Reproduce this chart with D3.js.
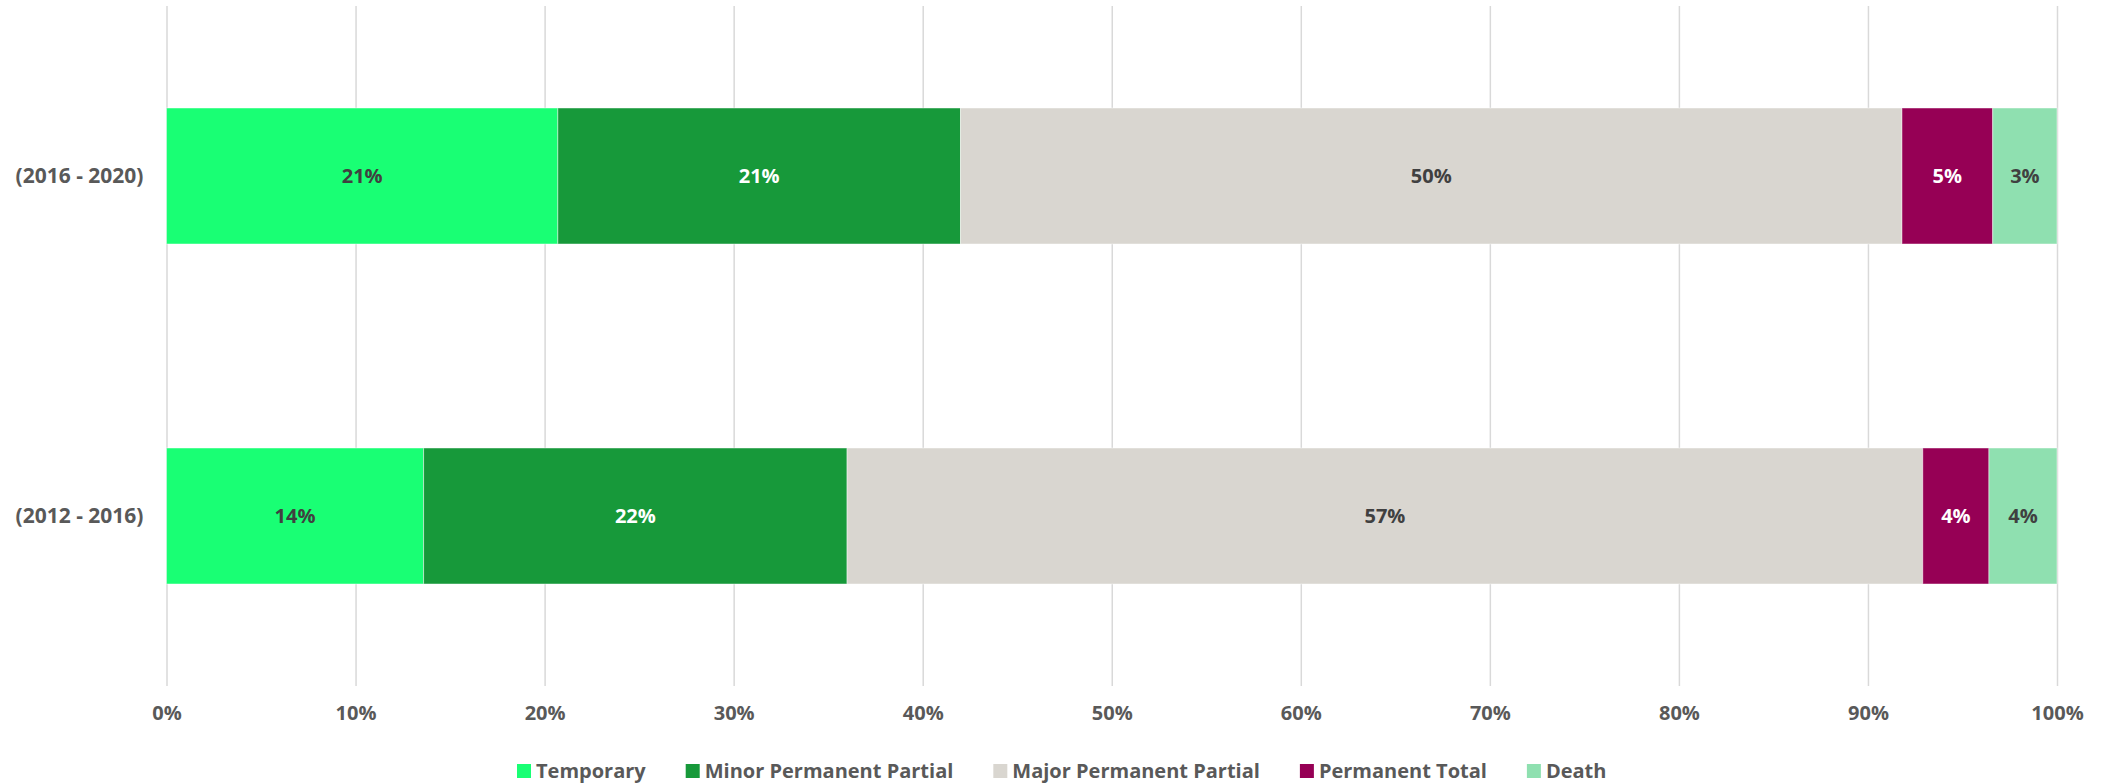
<!DOCTYPE html>
<html>
<head>
<meta charset="utf-8">
<script src="https://cdn.jsdelivr.net/npm/d3@7"></script>
<style>
    body { margin: 0; background: #fff; }
    text { font-family: "Open Sans", sans-serif; font-weight: bold; }
    .tick text { fill: #595959; font-size: 20px; }
    .y-axis .tick text { font-size: 21px; }
    .legend text { fill: #595959; font-size: 20px; }
</style>
</head>
<body>
<div id="chart-container"></div>
<script>
// periods, top to bottom
let periods = ["(2016 - 2020)", "(2012 - 2016)"];

let seriesNames = ["Temporary", "Minor Permanent Partial", "Major Permanent Partial", "Permanent Total", "Death"];
let seriesColors = ["#19ff74", "#17993a", "#d9d6d0", "#960055", "#8fe0b0"];
let labelColors = ["#404040", "#ffffff", "#404040", "#ffffff", "#404040"];

// shares in %, one value per period
let temporary = [20.7, 13.6];
let minorPermanentPartial = [21.3, 22.4];
let majorPermanentPartial = [49.8, 56.9];
let permanentTotal = [4.8, 3.5];
let death = [3.4, 3.6];

let xTicks = [0, 10, 20, 30, 40, 50, 60, 70, 80, 90, 100];

let margin = {top: 6, right: 47, bottom: 97, left: 166.5};
let totalWidth = 2104, totalHeight = 783;
let width = totalWidth - margin.left - margin.right;
let height = totalHeight - margin.top - margin.bottom;

let seriesValues = [temporary, minorPermanentPartial, majorPermanentPartial, permanentTotal, death];

// one row per period for d3.stack
let rows = periods.map(function(p, i) {
    let row = {period: p};
    seriesNames.forEach(function(s, j) { row[s] = seriesValues[j][i]; });
    return row;
});

let stacked = d3.stack().keys(seriesNames)(rows);

let svg = d3.select('#chart-container').append('svg')
    .attr('width', totalWidth)
    .attr('height', totalHeight);

let g = svg.append('g')
    .attr('transform', 'translate(' + margin.left + ',' + margin.top + ')');

let x = d3.scaleLinear()
    .domain([0, 100])
    .range([0, width]);

let y = d3.scaleBand()
    .domain(periods)
    .range([0, height])
    .paddingInner(0.6)
    .paddingOuter(0.3);

// Gridlines
g.append('g')
    .attr('class', 'grid')
    .call(d3.axisBottom(x).tickValues(xTicks).tickSize(height).tickFormat(''))
    .call(function(sel) {
        sel.select('.domain').remove();
        sel.selectAll('line').attr('stroke', '#d9d9d9').attr('stroke-width', 1.5);
    });

// X axis labels
g.append('g')
    .attr('transform', 'translate(0,' + height + ')')
    .call(d3.axisBottom(x).tickValues(xTicks).tickSize(0).tickPadding(20)
        .tickFormat(function(d) { return d + '%'; }))
    .call(function(sel) {
        sel.select('.domain').remove();
        sel.selectAll('text').attr('dy', '0.71em').attr('y', 20);
    });

// Y axis labels
g.append('g')
    .attr('class', 'y-axis')
    .call(d3.axisLeft(y).tickSize(0).tickPadding(23))
    .call(function(sel) {
        sel.select('.domain').remove();
        sel.selectAll('text').attr('dy', '0.35em');
    });

// Bars
let layer = g.selectAll('g.layer')
    .data(stacked)
    .enter()
    .append('g')
    .attr('class', 'layer')
    .attr('fill', function(d, i) { return seriesColors[i]; });

layer.selectAll('rect')
    .data(function(d) { return d; })
    .enter()
    .append('rect')
    .attr('x', function(d) { return x(d[0]); })
    .attr('y', function(d) { return y(d.data.period); })
    .attr('width', function(d) { return x(d[1]) - x(d[0]); })
    .attr('height', y.bandwidth())
    .attr('stroke', '#ffffff')
    .attr('stroke-opacity', 0.45)
    .attr('stroke-width', 1);

layer.each(function(s, k) {
    d3.select(this).selectAll('text.value')
        .data(s)
        .enter()
        .append('text')
        .attr('class', 'value')
        .attr('x', function(d) { return (x(d[0]) + x(d[1])) / 2; })
        .attr('y', function(d) { return y(d.data.period) + y.bandwidth() / 2; })
        .attr('dy', '0.35em')
        .attr('text-anchor', 'middle')
        .attr('font-size', 20)
        .attr('fill', labelColors[k])
        .text(function(d) { return Math.round(d[1] - d[0]) + '%'; });
});

// Legend
let legend = svg.append('g')
    .attr('class', 'legend')
    .attr('transform', 'translate(517,0)');

let lx = 0;
seriesNames.forEach(function(name, i) {
    let item = legend.append('g').attr('transform', 'translate(' + lx + ',0)');
    item.append('rect')
        .attr('x', 0)
        .attr('y', 764)
        .attr('width', 14)
        .attr('height', 14)
        .attr('fill', seriesColors[i]);
    let t = item.append('text')
        .attr('x', 19)
        .attr('y', 778)
        .text(name);
    lx += 19 + t.node().getComputedTextLength() + 40;
});
</script>
</body>
</html>
